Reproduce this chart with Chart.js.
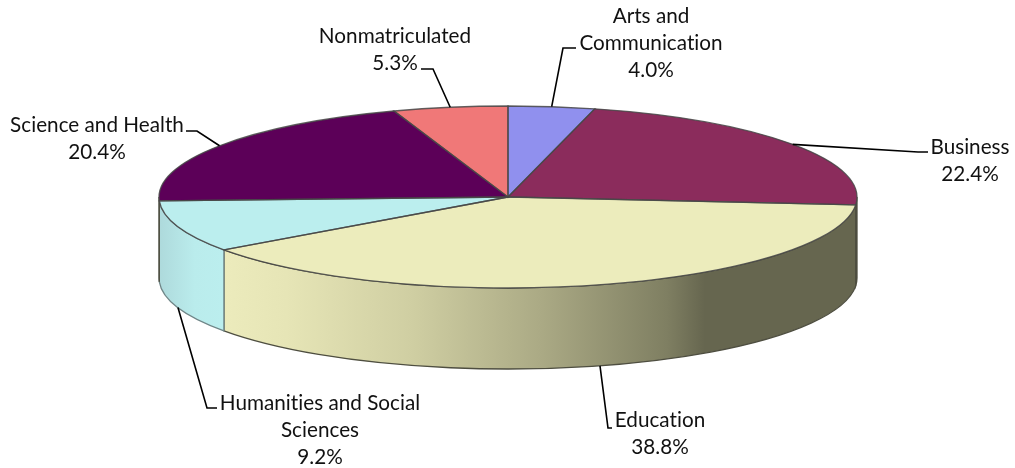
<!DOCTYPE html>
<html><head><meta charset="utf-8">
<style>html,body{margin:0;padding:0;background:#fff}canvas{display:block}</style>
<script src="https://cdn.jsdelivr.net/npm/chart.js@4"></script>
</head><body>
<div style="width:1015px;height:468px"><canvas id="c" width="1015" height="468"></canvas></div>
<script>
const categories = ["Arts and Communication","Business","Education","Humanities and Social Sciences","Science and Health","Nonmatriculated"];
const values = [4.0,22.4,38.8,9.2,20.4,5.3];
const colors = ["#9090EE","#8B2C5C","#ECECBC","#BBEEEE","#5C0058","#F07878"];
const valueLabels = ["4.0%","22.4%","38.8%","9.2%","20.4%","5.3%"];

const geom = {cx:508, cy:197, rx:349, ry:91, depth:81};
const labelLayout = [
  {x:651, lines:["Arts and","Communication"], ys:[16,43,70], elbow:[[563,48],[576,48]], side:false},
  {x:970, lines:["Business"], ys:[147,174], elbow:[[918,152],[928,152]], side:false},
  {x:660, lines:["Education"], ys:[420,447], elbow:[[608,428],[612,428]], side:true},
  {x:320, lines:["Humanities and Social","Sciences"], ys:[403,430,457], elbow:[[207,408],[217,408]], side:true},
  {x:97, lines:["Science and Health"], ys:[125,152], elbow:[[197,131],[186,131]], side:false},
  {x:395, lines:["Nonmatriculated"], ys:[36,63], elbow:[[433,69],[421,69]], side:false}
];

function wallFill(ctx,i){
  if(i===2){
    const g=ctx.createLinearGradient(223,0,857,0);
    [[0,"#ECEBBC"],[0.1,"#E6E5B6"],[0.3,"#CFCEA2"],[0.5,"#ABAA85"],[0.7,"#7F7F62"],[0.76,"#66664F"],[1,"#66664F"]]
      .forEach(s=>g.addColorStop(s[0],s[1]));
    return g;
  }
  if(i===3){
    const g=ctx.createLinearGradient(160,0,223,0);
    g.addColorStop(0,"#AEDADC");g.addColorStop(0.55,"#BAECEC");g.addColorStop(1,"#BBEEEE");
    return g;
  }
  return i===1?"#66664F":"#AEDADC";
}

const pie3d = {
  id:"pie3d",
  beforeDatasetsDraw(chart){
    const ctx=chart.ctx, els=chart.getDatasetMeta(0).data, g=geom;
    els.forEach((el,i)=>{
      const a=Math.max(el.startAngle,0), b=Math.min(el.endAngle,Math.PI);
      if(b<=a) return;
      ctx.beginPath();
      ctx.ellipse(g.cx,g.cy,g.rx,g.ry,0,a,b);
      ctx.ellipse(g.cx,g.cy+g.depth,g.rx,g.ry,0,b,a,true);
      ctx.closePath();
      ctx.fillStyle=wallFill(ctx,i);
      ctx.fill();
      ctx.strokeStyle=i===3?"#6f8688":"#4e4e40";
      ctx.lineWidth=1.3;
      ctx.stroke();
    });
    const e0=els[0], sx=g.rx/e0.outerRadius, sy=g.ry/e0.outerRadius;
    ctx.save();
    ctx.translate(g.cx,g.cy);ctx.scale(sx,sy);ctx.translate(-e0.x,-e0.y);
  },
  afterDatasetsDraw(chart){
    const ctx=chart.ctx, els=chart.getDatasetMeta(0).data, g=geom;
    ctx.restore();
    els.forEach(el=>{
      ctx.beginPath();
      ctx.moveTo(g.cx,g.cy);
      ctx.ellipse(g.cx,g.cy,g.rx,g.ry,0,el.startAngle,el.endAngle);
      ctx.closePath();
      ctx.strokeStyle="rgba(70,70,70,0.85)";
      ctx.lineWidth=1.3;
      ctx.stroke();
    });
    ctx.strokeStyle="#000";ctx.lineWidth=1.6;ctx.lineJoin="miter";
    els.forEach((el,i)=>{
      const L=labelLayout[i], m=(el.startAngle+el.endAngle)/2;
      const ax=g.cx+g.rx*Math.cos(m), ay=g.cy+g.ry*Math.sin(m)+(L.side?g.depth:0);
      ctx.beginPath();ctx.moveTo(ax,ay);
      L.elbow.forEach(p=>ctx.lineTo(p[0],p[1]));
      ctx.stroke();
    });
    ctx.fillStyle="#111";ctx.font='20.7px Lato, "Open Sans", sans-serif';
    ctx.letterSpacing="0.01px";
    ctx.textAlign="center";ctx.textBaseline="middle";
    els.forEach((el,i)=>{
      const L=labelLayout[i], texts=L.lines.concat([valueLabels[i]]);
      texts.forEach((t,k)=>ctx.fillText(t,L.x,L.ys[k]));
    });
  }
};

new Chart(document.getElementById("c"),{
  type:"pie",
  data:{labels:categories,datasets:[{data:values,backgroundColor:colors,borderWidth:0}]},
  options:{responsive:false,animation:false,layout:{padding:0},
    plugins:{legend:{display:false},tooltip:{enabled:false},title:{display:false}}},
  plugins:[pie3d]
});
</script>
</body></html>
